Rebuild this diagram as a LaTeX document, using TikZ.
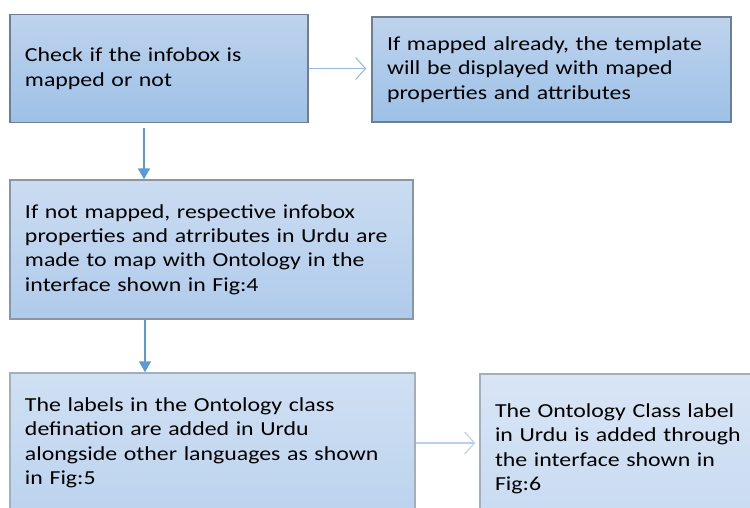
\documentclass[tikz,border=0pt]{standalone}
\usepackage{fontspec}
\setmainfont{Carlito}[FakeStretch=1.2]
\usetikzlibrary{arrows.meta}

\definecolor{darkline}{RGB}{112,126,146}
\definecolor{midline}{RGB}{138,150,166}
\definecolor{lightline}{RGB}{165,175,188}
\definecolor{arrowblue}{RGB}{91,155,213}
\definecolor{paleblue}{RGB}{150,186,226}
\definecolor{faintblue}{RGB}{184,206,234}

\begin{document}
\begin{tikzpicture}[
    flowbox/.style={
        rectangle, draw=darkline, thick,
        inner xsep=0.3cm, inner ysep=0pt, align=left,
        font=\fontsize{11.3}{13.9}\selectfont
    },
    darkbox/.style={flowbox, top color={rgb,255:red,190;green,211;blue,237},
        bottom color={rgb,255:red,157;green,193;blue,231}},
    midbox/.style={flowbox, draw=midline, top color={rgb,255:red,203;green,220;blue,241},
        bottom color={rgb,255:red,175;green,203;blue,235}},
    lightbox/.style={flowbox, draw=lightline, top color={rgb,255:red,208;green,224;blue,243},
        bottom color={rgb,255:red,188;green,211;blue,238}},
    palebox/.style={flowbox, draw=lightline, top color={rgb,255:red,216;green,229;blue,245},
        bottom color={rgb,255:red,200;green,219;blue,241}},
    fillarrow/.style={thick, draw=arrowblue, -{Triangle[length=2.2mm,width=2.4mm]}},
    openarrow/.style={semithick, draw=paleblue, -{Straight Barb[length=2mm,width=4.4mm]}},
]

% page: 750 x 508 px, 1px = 0.02cm
\path[use as bounding box, clip] (0,0) rectangle (15,-10.16);

\node [darkbox, minimum width=5.96cm, minimum height=2.16cm, text width=5.36cm]
    (check) at (3.18,-1.37) {Check if the infobox is\\mapped or not};
\node [darkbox, minimum width=7.18cm, minimum height=2.10cm, text width=6.58cm]
    (mapped) at (11.03,-1.39) {If mapped already, the template\\will be displayed with maped\\properties and attributes};
\node [midbox, minimum width=8.06cm, minimum height=2.78cm, text width=7.46cm]
    (notmap) at (4.23,-4.99) {If not mapped, respective infobox\\properties and atrributes in Urdu are\\made to map with Ontology in the\\interface shown in Fig:4};
\node [lightbox, minimum width=8.10cm, minimum height=2.80cm, text width=7.50cm]
    (labels) at (4.25,-8.86) {The labels in the Ontology class\\defination are added in Urdu\\alongside other languages as shown\\in Fig:5};
\node [palebox, minimum width=5.60cm, minimum height=3.00cm, text width=5.00cm]
    (classlbl) at (12.40,-8.98) {The Ontology Class label\\in Urdu is added through\\the interface shown in\\Fig:6};

\draw[openarrow, shorten >=0.1cm] (check.east) -- (check.east -| mapped.west);
\draw[fillarrow, shorten <=0.1cm] ([xshift=-3mm]check.south) -- ([xshift=-3mm]check.south |- notmap.north);
\draw[fillarrow] ([xshift=-13.3mm]notmap.south) -- ([xshift=-13.3mm]notmap.south |- labels.north);
\draw[openarrow, draw=faintblue, shorten >=0.08cm] (labels.east) -- (labels.east -| classlbl.west);

\end{tikzpicture}
\end{document}
